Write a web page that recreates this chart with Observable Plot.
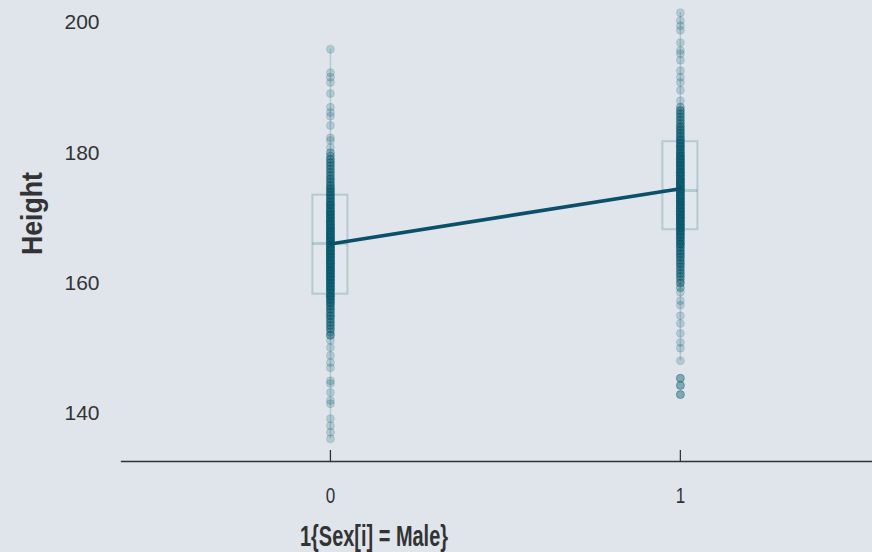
<!DOCTYPE html>
<html><head><meta charset="utf-8">
<script src="https://cdn.jsdelivr.net/npm/d3@7"></script>
<script src="https://cdn.jsdelivr.net/npm/@observablehq/plot@0.6"></script>
<style>
html,body{margin:0;padding:0;background:#dfe5eb;}
#chart{width:872px;height:552px;overflow:hidden;}
</style>
</head><body><div id="chart"></div>
<script>
// ---- data ----
const SEX = [0, 1];
const X_TICKS = [0, 1];
const Y_TICKS = [140, 160, 180, 200];
const X_LABEL = "1{Sex[i] = Male}";
const Y_LABEL = "Height";

// Sex = 0: height values and how many observations sit at each value
const F_H = [
  136.1,137.1,138.1,139.2,141.5,142.0,143.2,144.6,145.0,147.0,
  147.8,148.9,150.1,151.2,152.0,152.5,153.0,153.5,154.0,154.5,
  155.0,155.5,156.0,156.5,157.0,157.5,158.0,158.5,159.0,159.5,
  160.0,160.5,161.0,161.5,162.0,162.5,163.0,163.5,164.0,164.5,
  165.0,165.5,166.0,166.5,167.0,167.5,168.0,168.5,169.0,169.5,
  170.0,170.5,171.0,171.5,172.0,172.5,173.0,173.5,174.0,174.5,
  175.0,175.5,176.0,176.5,177.0,177.5,178.0,178.5,179.0,179.5,
  180.0,180.8,181.9,182.3,184.2,185.6,186.2,187.0,189.1,190.8,
  191.6,192.3,195.9
];
const F_N = [
  1,1,1,1,1,1,1,1,1,1,
  1,1,1,1,3,2,3,3,3,3,
  4,3,4,4,5,5,7,5,7,7,
  7,7,7,7,8,7,8,7,8,8,
  8,7,8,8,8,7,8,7,7,7,
  7,7,7,5,7,5,5,5,5,5,
  4,3,4,3,3,3,3,3,3,2,
  2,1,1,1,1,1,1,1,1,1,
  1,1,1
];
// Sex = 1
const M_H = [
  142.9,144.3,145.4,148.1,150.0,150.9,152.3,153.8,155.0,156.6,
  157.3,158.6,159.3,160.0,160.5,161.0,161.5,162.0,162.5,163.0,
  163.5,164.0,164.5,165.0,165.5,166.0,166.5,167.0,167.5,168.0,
  168.5,169.0,169.5,170.0,170.5,171.0,171.5,172.0,172.5,173.0,
  173.5,174.0,174.5,175.0,175.5,176.0,176.5,177.0,177.5,178.0,
  178.5,179.0,179.5,180.0,180.5,181.0,181.5,182.0,182.5,183.0,
  183.5,184.0,184.5,185.0,185.5,186.0,186.5,187.0,188.0,189.6,
  190.8,191.6,192.6,194.2,195.2,195.7,196.9,198.8,199.5,200.3,
  201.5
];
const M_N = [
  1,1,1,1,1,1,1,1,1,1,
  1,1,2,3,2,3,3,3,3,4,
  3,4,4,4,4,6,5,6,6,7,
  7,8,7,8,8,8,8,8,8,8,
  8,8,8,8,8,8,7,8,7,7,
  7,7,7,6,5,6,5,5,4,4,
  4,4,3,3,3,3,3,2,1,1,
  1,1,1,1,1,1,1,1,1,1,
  1
];

// box-plot summaries and group means
const Q1       = [158.3, 168.2];
const MEDIAN   = [166.1, 174.2];
const Q3       = [173.5, 181.7];
const WHISK_LO = [136.1, 148.1];
const WHISK_HI = [195.9, 201.5];
const MEAN     = [166.0, 174.5];

// ---- build tables ----
const points = [];
[[F_H, F_N], [M_H, M_N]].forEach(([hs, ns], g) => {
  hs.forEach((h, i) => { for (let k = 0; k < ns[i]; k++) points.push({sex: SEX[g], height: h}); });
});
const boxes = SEX.map((s, i) => ({sex: s, q1: Q1[i], med: MEDIAN[i], q3: Q3[i], lo: WHISK_LO[i], hi: WHISK_HI[i], mean: MEAN[i]}));
const outliers = points.filter(p => p.height < boxes[p.sex].lo || p.height > boxes[p.sex].hi);

const BOX_HALF = 0.05;
const teal = "#0b5a70";
const ink = "#333333";

const plot = Plot.plot({
  width: 872, height: 552,
  marginTop: 0, marginBottom: 91, marginLeft: 121, marginRight: 0,
  style: {background: "#dfe5eb", fontFamily: "'Liberation Sans', Arial, sans-serif", color: ink, overflow: "visible"},
  x: {domain: [-0.597, 1.549]},
  y: {domain: [132.62, 203.38]},
  marks: [
    Plot.frame({anchor: "bottom", stroke: ink, strokeWidth: 1.3}),
    Plot.ruleX(boxes, {x: "sex", y1: "lo", y2: "q1", stroke: teal, strokeOpacity: 0.2, strokeWidth: 1.5}),
    Plot.ruleX(boxes, {x: "sex", y1: "q3", y2: "hi", stroke: teal, strokeOpacity: 0.2, strokeWidth: 1.5}),
    Plot.rect(boxes, {x1: d => d.sex - BOX_HALF, x2: d => d.sex + BOX_HALF, y1: "q1", y2: "q3",
      fill: "#ffffff", fillOpacity: 0.08, stroke: teal, strokeOpacity: 0.2, strokeWidth: 2}),
    Plot.ruleY(boxes, {y: "med", x1: d => d.sex - BOX_HALF, x2: d => d.sex + BOX_HALF,
      stroke: teal, strokeOpacity: 0.2, strokeWidth: 3}),
    Plot.dot(points, {x: "sex", y: "height", r: 4, fill: teal, fillOpacity: 0.2, stroke: teal, strokeOpacity: 0.14, strokeWidth: 1}),
    Plot.dot(outliers, {x: "sex", y: "height", r: 4, fill: teal, fillOpacity: 0.3, stroke: teal, strokeOpacity: 0.3, strokeWidth: 1}),
    Plot.line(boxes, {x: "sex", y: "mean", stroke: "#0a5068", strokeWidth: 3.6}),
    Plot.ruleX(X_TICKS, {insetTop: 450, stroke: ink, strokeWidth: 1.3}),
    Plot.axisY({ticks: Y_TICKS, tickSize: 0, tickPadding: 22, fontSize: 21, label: null}),
    Plot.axisX({ticks: X_TICKS, tickFormat: d => String(d), tickSize: 0, tickPadding: 26, fontSize: 22, label: null})
  ]
});

const svg = d3.select(plot);
svg.selectAll('g[aria-label="x-axis tick label"] text')
  .attr("textLength", 9.5).attr("lengthAdjust", "spacingAndGlyphs");
svg.append("text")
  .attr("transform", "translate(42,213.5) rotate(-90)")
  .attr("text-anchor", "middle").attr("font-weight", "bold").attr("font-size", 30)
  .attr("fill", ink).attr("textLength", 83).attr("lengthAdjust", "spacingAndGlyphs")
  .text(Y_LABEL);
svg.append("text")
  .attr("x", 374).attr("y", 546)
  .attr("text-anchor", "middle").attr("font-weight", "bold").attr("font-size", 29)
  .attr("fill", ink).attr("textLength", 148).attr("lengthAdjust", "spacingAndGlyphs")
  .text(X_LABEL);

document.getElementById("chart").appendChild(plot);
</script>
</body></html>
